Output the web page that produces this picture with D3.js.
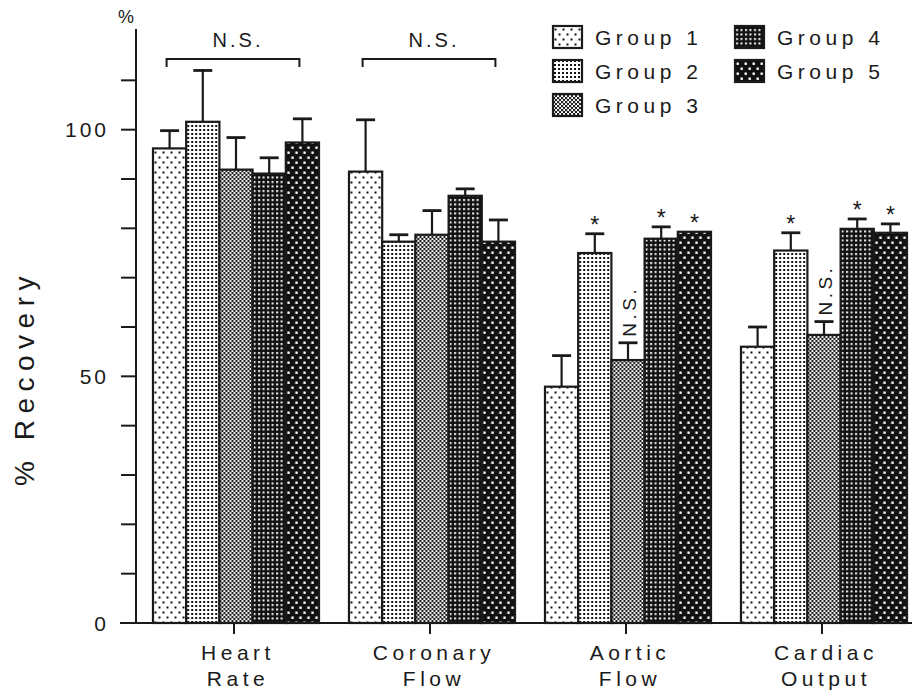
<!DOCTYPE html>
<html>
<head>
<meta charset="utf-8">
<script src="https://cdn.jsdelivr.net/npm/d3@7"></script>
<style>
  body { margin: 0; background: #fff; }
  svg { display: block; font-family: 'Liberation Sans', Arial, sans-serif; }
</style>
</head>
<body>
<div id="chart"></div>
<script>
// data (% recovery, mean and SEM)
const categories = [["Heart", "Rate"], ["Coronary", "Flow"], ["Aortic", "Flow"], ["Cardiac", "Output"]];
const groups = ["Group 1", "Group 2", "Group 3", "Group 4", "Group 5"];
const group1 = [96.2, 91.5, 47.9, 56.0];
const group2 = [101.6, 77.3, 75.0, 75.5];
const group3 = [91.9, 78.7, 53.3, 58.4];
const group4 = [91.1, 86.6, 77.9, 79.9];
const group5 = [97.4, 77.3, 79.3, 79.1];
const err1 = [3.6, 10.5, 6.3, 4.0];
const err2 = [10.4, 1.4, 3.9, 3.6];
const err3 = [6.5, 4.9, 3.5, 2.7];
const err4 = [3.2, 1.4, 2.4, 2.0];
const err5 = [4.8, 4.4, 0, 1.8];
// significance marks per category, per group
const marks = [
  ["", "", "", "", ""],
  ["", "", "", "", ""],
  ["", "*", "N.S.", "*", "*"],
  ["", "*", "N.S.", "*", "*"]
];
const bracketLabels = ["N.S.", "N.S.", "", ""];
const yTicks = [0, 10, 20, 30, 40, 50, 60, 70, 80, 90, 100, 110];
const yTickLabels = [0, 50, 100];

const means = [group1, group2, group3, group4, group5];
const errs = [err1, err2, err3, err4, err5];

const W = 913, H = 692;
const svg = d3.select("#chart").append("svg")
  .attr("width", W).attr("height", H);

// fill patterns for the five groups
const defs = svg.append("defs");
function pattern(id, w, h, bg, fg, dots) {
  const p = defs.append("pattern")
    .attr("id", id).attr("patternUnits", "userSpaceOnUse")
    .attr("width", w).attr("height", h);
  p.append("rect").attr("width", w).attr("height", h).attr("fill", bg);
  dots.forEach(d => p.append("rect")
    .attr("x", d[0]).attr("y", d[1]).attr("width", d[2]).attr("height", d[2])
    .attr("fill", fg));
}
pattern("p0", 8, 10, "#fff", "#111", [[1.5, 1.5, 2], [5.5, 6.5, 2]]);
pattern("p1", 4, 4, "#fff", "#111", [[1, 1, 2]]);
pattern("p2", 4, 4, "#fff", "#222", [[0, 0, 2.2], [2, 2, 2.2]]);
pattern("p3", 4.5, 4.5, "#111", "#fff", [[1, 1, 2]]);
pattern("p4", 8, 10, "#111", "#fff", [[1.5, 1.5, 2.4], [5.5, 6.5, 2.4]]);

const axisX = 136;
const y = d3.scaleLinear().domain([0, 120]).range([623, 31]);
const x = d3.scaleBand().domain(d3.range(categories.length))
  .range([138, 922]).paddingInner(0.153).paddingOuter(0.0765);
const xg = d3.scaleBand().domain(d3.range(groups.length))
  .range([0, x.bandwidth()]);

const ink = "#1a1a1a";

// y axis
svg.append("line")
  .attr("x1", axisX).attr("x2", axisX)
  .attr("y1", y(0)).attr("y2", 29)
  .attr("stroke", ink).attr("stroke-width", 2);
svg.selectAll(".ytick").data(yTicks).enter().append("line")
  .attr("x1", axisX - 15).attr("x2", axisX)
  .attr("y1", d => y(d)).attr("y2", d => y(d))
  .attr("stroke", ink).attr("stroke-width", 2);
svg.selectAll(".ylab").data(yTickLabels).enter().append("text")
  .attr("x", 109).attr("y", d => y(d) + 7.5)
  .attr("text-anchor", "end")
  .attr("font-size", 21).attr("letter-spacing", 3)
  .attr("fill", ink)
  .text(d => d);
svg.append("text")
  .attr("x", 126).attr("y", 23)
  .attr("text-anchor", "middle").attr("font-size", 18)
  .attr("fill", ink).text("%");
svg.append("text")
  .attr("transform", `translate(34,378) rotate(-90)`)
  .attr("text-anchor", "middle")
  .attr("font-size", 28).attr("letter-spacing", 6.5)
  .attr("fill", ink).text("% Recovery");

// x axis
svg.append("line")
  .attr("x1", 120).attr("x2", 912)
  .attr("y1", y(0)).attr("y2", y(0))
  .attr("stroke", ink).attr("stroke-width", 2);

const cat = svg.selectAll(".cat").data(categories).enter().append("g")
  .attr("class", "cat")
  .attr("transform", (d, i) => `translate(${x(i)},0)`);

cat.append("line")
  .attr("x1", x.bandwidth() / 2 - 2).attr("x2", x.bandwidth() / 2 - 2)
  .attr("y1", y(0)).attr("y2", y(0) + 11)
  .attr("stroke", ink).attr("stroke-width", 2);

cat.each(function (d) {
  const g = d3.select(this);
  d.forEach((line, k) => g.append("text")
    .attr("x", x.bandwidth() / 2 + 2)
    .attr("y", 660 + k * 26)
    .attr("text-anchor", "middle")
    .attr("font-size", 21).attr("letter-spacing", 4.5)
    .attr("fill", ink)
    .text(line));
});

// bars
const barData = [];
categories.forEach((c, ci) => groups.forEach((gname, gi) => {
  barData.push({ ci, gi, v: means[gi][ci], e: errs[gi][ci], mark: marks[ci][gi] });
}));

const bars = svg.selectAll(".bar").data(barData).enter().append("g")
  .attr("class", "bar")
  .attr("transform", d => `translate(${x(d.ci) + xg(d.gi)},0)`);

// error bars drawn first so the bar outline sits on top
bars.filter(d => d.e > 0).append("line")
  .attr("x1", xg.bandwidth() / 2).attr("x2", xg.bandwidth() / 2)
  .attr("y1", d => y(d.v)).attr("y2", d => y(d.v + d.e))
  .attr("stroke", ink).attr("stroke-width", 2.2);
bars.filter(d => d.e > 0).append("line")
  .attr("x1", xg.bandwidth() / 2 - 9.5).attr("x2", xg.bandwidth() / 2 + 9.5)
  .attr("y1", d => y(d.v + d.e)).attr("y2", d => y(d.v + d.e))
  .attr("stroke", ink).attr("stroke-width", 2.8);

bars.append("rect")
  .attr("x", 0).attr("width", xg.bandwidth())
  .attr("y", d => y(d.v)).attr("height", d => y(0) - y(d.v))
  .attr("fill", d => `url(#p${d.gi})`)
  .attr("stroke", ink).attr("stroke-width", 2.2);

bars.filter(d => d.mark === "*").append("text")
  .attr("x", xg.bandwidth() / 2)
  .attr("y", d => y(d.v + d.e) - 1)
  .attr("text-anchor", "middle").attr("font-size", 23)
  .attr("fill", ink).text("*");

bars.filter(d => d.mark === "N.S.").append("text")
  .attr("transform", d => `translate(${xg.bandwidth() / 2 + 7.5},${y(d.v + d.e) - 6}) rotate(-90)`)
  .attr("text-anchor", "start")
  .attr("font-size", 19).attr("letter-spacing", 3.5)
  .attr("fill", ink).text("N.S.");

// N.S. brackets over heart rate and coronary flow
const br = cat.filter((d, i) => bracketLabels[i] !== "");
br.append("path")
  .attr("d", () => {
    const x0 = xg(0) + xg.bandwidth() / 2 - 3, x1 = xg(4) + xg.bandwidth() / 2 - 3;
    return `M${x0},67V59H${x1}V67`;
  })
  .attr("fill", "none").attr("stroke", ink).attr("stroke-width", 2);
br.append("text")
  .attr("x", x.bandwidth() / 2 + 2)
  .attr("y", 47)
  .attr("text-anchor", "middle")
  .attr("font-size", 20).attr("letter-spacing", 3)
  .attr("fill", ink)
  .text(d => bracketLabels[categories.indexOf(d)]);

// legend
const legendPos = [[553, 37], [553, 71], [553, 105], [735, 37], [735, 71]];
const lg = svg.selectAll(".leg").data(groups).enter().append("g")
  .attr("class", "leg")
  .attr("transform", (d, i) => `translate(${legendPos[i][0]},${legendPos[i][1]})`);
lg.append("rect")
  .attr("x", 0).attr("y", -11).attr("width", 29).attr("height", 22)
  .attr("fill", (d, i) => `url(#p${i})`)
  .attr("stroke", ink).attr("stroke-width", 2.2);
lg.append("text")
  .attr("x", 42).attr("y", 7.5)
  .attr("font-size", 21).attr("letter-spacing", 4.5)
  .attr("fill", ink)
  .text(d => d);
</script>
</body>
</html>
